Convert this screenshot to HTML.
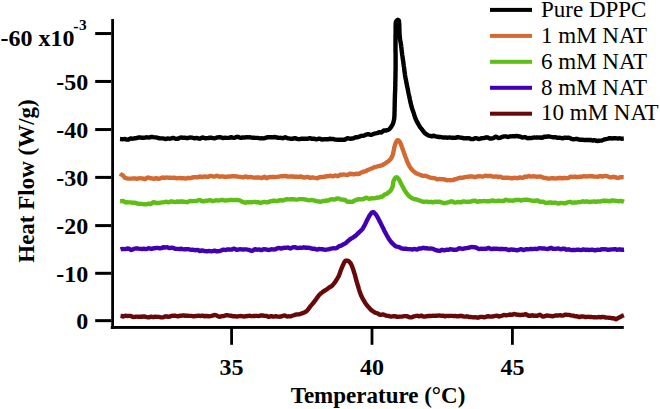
<!DOCTYPE html>
<html><head><meta charset="utf-8"><style>
html,body{margin:0;padding:0;background:#fff;}
svg{display:block;}
</style></head><body>
<svg width="660" height="409" viewBox="0 0 660 409">
<rect width="660" height="409" fill="#fff"/>
<g fill="none" stroke-width="4.4" stroke-linejoin="round" stroke-linecap="butt">
<path d="M120.0 139.0 121.2 139.1 122.4 139.2 123.6 139.1 124.8 139.0 126.0 139.3 127.2 139.7 128.4 139.5 129.6 138.8 130.8 138.5 132.0 138.7 133.2 138.6 134.4 138.3 135.6 138.2 136.7 138.1 137.9 137.7 139.0 137.4 140.2 137.5 141.4 137.7 142.6 137.8 143.8 137.7 145.0 137.6 146.2 137.3 147.4 137.4 148.6 137.6 149.8 137.3 151.0 137.0 152.2 136.9 153.4 137.2 154.6 137.4 155.8 137.4 157.0 137.6 158.2 138.0 159.4 138.3 160.5 138.4 161.7 138.4 162.9 138.4 164.1 138.6 165.3 139.0 166.5 138.8 167.7 138.4 168.9 138.6 170.1 138.7 171.3 138.4 172.5 138.0 173.7 138.0 174.9 138.5 176.1 138.9 177.3 138.8 178.5 138.5 179.7 137.9 180.9 137.5 182.1 137.7 183.3 137.8 184.5 137.6 185.7 137.9 186.9 138.2 188.1 138.0 189.3 137.6 190.5 137.5 191.7 137.6 192.9 137.8 194.1 138.3 195.3 138.2 196.5 138.0 197.7 138.2 198.9 138.6 200.1 138.7 201.3 138.0 202.5 137.4 203.7 137.8 204.9 138.3 206.1 138.2 207.3 138.1 208.5 138.1 209.7 137.6 210.9 137.6 212.1 138.0 213.3 138.2 214.5 138.4 215.7 138.0 216.9 137.5 218.1 137.3 219.3 137.1 220.5 137.2 221.7 137.7 222.9 138.0 224.1 137.9 225.3 137.8 226.5 137.9 227.7 137.9 228.9 137.9 230.1 137.5 231.3 137.2 232.5 137.6 233.7 137.9 234.9 137.6 236.1 137.2 237.3 136.8 238.5 137.0 239.7 137.6 240.9 137.9 242.1 137.5 243.3 137.4 244.5 137.5 245.7 137.3 246.9 137.3 248.1 137.4 249.3 137.2 250.5 137.4 251.7 137.6 252.9 137.7 254.1 137.8 255.3 137.9 256.5 137.9 257.7 137.9 258.9 138.2 260.1 138.4 261.3 138.3 262.5 138.4 263.7 138.3 264.9 138.1 266.1 137.7 267.3 137.3 268.5 137.3 269.7 137.2 270.9 137.1 272.1 137.4 273.3 137.3 274.5 137.0 275.7 137.1 276.9 137.5 278.1 137.8 279.3 137.9 280.5 137.8 281.7 138.0 282.9 138.2 284.1 137.7 285.3 137.3 286.5 137.8 287.6 138.3 288.8 138.4 290.0 138.6 291.2 138.8 292.4 138.8 293.6 138.4 294.8 138.2 296.0 138.5 297.2 138.8 298.4 139.1 299.6 139.1 300.8 138.8 302.0 138.7 303.2 138.7 304.4 138.7 305.6 138.6 306.8 138.8 308.0 138.8 309.2 138.2 310.4 138.1 311.6 138.7 312.8 138.8 314.0 138.7 315.2 139.0 316.4 139.4 317.6 139.1 318.8 138.7 320.0 138.7 321.2 139.3 322.4 139.5 323.6 139.3 324.8 139.2 326.0 139.2 327.2 139.2 328.4 139.2 329.6 138.8 330.8 138.8 332.0 139.1 333.1 139.0 334.3 139.3 335.5 139.6 336.7 139.6 337.9 139.9 339.1 139.8 340.3 139.7 341.5 139.7 342.7 139.7 343.9 139.8 345.1 139.5 346.3 138.8 347.5 138.2 348.7 138.4 349.8 138.8 351.0 138.7 352.2 138.5 353.4 138.4 354.6 137.7 355.8 137.3 356.9 137.3 358.1 137.1 359.3 136.7 360.4 136.1 361.6 135.8 362.7 135.9 363.9 135.7 365.0 135.1 366.2 134.6 367.3 134.2 368.5 134.2 369.7 134.6 370.9 134.8 372.1 134.6 373.3 134.0 374.5 133.6 375.6 133.4 376.8 133.2 378.0 132.8 379.1 132.2 380.3 132.3 381.4 132.5 382.6 131.6 383.7 130.5 384.9 130.5 386.0 130.5 387.2 130.2 388.3 129.9 389.3 129.1 390.2 128.2 391.0 127.2 391.6 126.2 392.2 125.2 392.8 124.1 393.2 123.0 393.5 121.9 393.8 120.7 394.1 119.5 394.2 118.4 394.3 117.2 394.4 116.0 394.5 114.8 394.5 113.6 394.5 112.4 394.6 111.2 394.6 110.0 394.6 108.8 394.6 107.6 394.7 106.4 394.7 105.2 394.7 104.0 394.7 102.8 394.8 101.6 394.8 100.4 394.8 99.2 394.9 98.0 394.9 96.8 394.9 95.6 395.0 94.4 395.0 93.2 395.1 92.0 395.1 90.8 395.2 89.6 395.2 88.4 395.2 87.2 395.3 86.0 395.3 84.8 395.3 83.6 395.3 82.4 395.4 81.2 395.4 80.0 395.4 78.8 395.4 77.6 395.5 76.4 395.5 75.2 395.5 74.0 395.5 72.8 395.5 71.6 395.6 70.4 395.6 69.2 395.6 68.0 395.6 66.8 395.6 65.6 395.6 64.4 395.6 63.2 395.6 62.0 395.6 60.8 395.6 59.6 395.6 58.4 395.6 57.2 395.6 56.0 395.6 54.8 395.6 53.6 395.5 52.4 395.5 51.2 395.5 50.0 395.5 48.8 395.5 47.6 395.5 46.4 395.5 45.2 395.5 44.0 395.5 42.8 395.5 41.6 395.5 40.4 395.5 39.2 395.5 38.0 395.5 36.8 395.5 35.6 395.6 34.4 395.6 33.2 395.6 32.0 395.6 30.8 395.6 29.6 395.6 28.4 395.6 27.2 395.6 26.0 395.7 24.8 395.7 23.6 395.8 22.4 396.2 21.2 397.0 20.4 397.9 19.8 398.7 20.3 399.0 21.4 399.1 22.6 399.2 23.8 399.3 25.0 399.3 26.2 399.3 27.4 399.4 28.6 399.4 29.8 399.4 31.0 399.5 32.2 399.5 33.4 399.6 34.6 399.7 35.8 399.8 37.0 399.9 38.2 400.1 39.4 400.2 40.6 400.5 41.7 400.7 42.9 400.9 44.1 401.1 45.3 401.2 46.5 401.4 47.7 401.5 48.9 401.6 50.1 401.8 51.2 401.9 52.4 402.1 53.6 402.2 54.8 402.4 56.0 402.6 57.2 402.7 58.4 402.9 59.6 403.1 60.8 403.3 61.9 403.4 63.1 403.6 64.3 403.7 65.5 403.9 66.7 404.1 67.9 404.2 69.1 404.4 70.3 404.5 71.5 404.7 72.6 404.9 73.8 405.0 75.0 405.2 76.2 405.4 77.4 405.6 78.6 405.9 79.7 406.1 80.9 406.3 82.1 406.5 83.3 406.8 84.5 407.0 85.6 407.2 86.8 407.5 88.0 407.7 89.2 408.0 90.3 408.2 91.5 408.4 92.7 408.7 93.9 408.9 95.0 409.2 96.2 409.4 97.4 409.7 98.6 409.9 99.7 410.2 100.9 410.4 102.1 410.7 103.3 411.0 104.4 411.3 105.6 411.6 106.7 411.9 107.9 412.3 109.0 412.7 110.2 413.1 111.3 413.5 112.4 413.9 113.6 414.2 114.7 414.6 115.9 414.9 117.0 415.3 118.2 415.8 119.3 416.3 120.3 416.8 121.4 417.4 122.5 418.0 123.5 418.6 124.6 419.2 125.6 419.8 126.7 420.4 127.6 421.1 128.4 421.9 129.4 422.7 130.4 423.4 131.4 424.2 132.4 425.0 133.3 425.9 133.9 426.9 134.5 428.0 135.3 429.2 135.8 430.4 135.9 431.6 136.3 432.8 136.0 433.9 135.7 435.1 136.2 436.3 136.6 437.5 136.7 438.7 137.0 439.9 137.0 441.1 137.2 442.3 137.4 443.5 137.5 444.7 137.5 445.9 137.4 447.1 137.7 448.3 137.6 449.5 137.4 450.7 137.6 451.9 137.7 453.0 137.8 454.2 137.9 455.4 137.8 456.6 137.5 457.8 137.2 459.0 137.3 460.2 137.6 461.4 137.7 462.6 137.9 463.8 138.3 465.0 138.4 466.2 138.3 467.4 138.2 468.5 138.1 469.7 138.4 470.9 139.0 472.1 139.1 473.3 139.0 474.5 138.4 475.7 138.1 476.9 138.3 478.1 138.9 479.3 139.0 480.5 138.6 481.7 138.2 482.9 138.1 484.1 138.1 485.3 137.7 486.5 137.3 487.7 137.5 488.9 138.2 490.1 138.5 491.3 138.5 492.5 138.4 493.7 138.0 494.9 137.1 496.1 136.6 497.3 137.3 498.5 138.0 499.7 137.9 500.8 137.4 502.0 137.0 503.2 136.7 504.4 136.4 505.6 136.4 506.8 136.7 508.0 137.0 509.2 136.6 510.4 136.3 511.6 136.4 512.8 136.3 514.0 136.3 515.2 136.3 516.4 135.9 517.6 136.2 518.8 136.5 520.0 136.5 521.2 137.0 522.3 137.6 523.5 137.4 524.7 137.0 525.9 137.4 527.1 138.1 528.3 138.2 529.5 138.0 530.7 138.1 531.9 138.0 533.1 137.6 534.3 137.5 535.5 137.6 536.7 137.4 537.9 137.5 539.1 137.6 540.3 137.4 541.5 137.9 542.7 137.7 543.9 136.7 545.1 136.7 546.3 136.8 547.5 136.5 548.7 136.4 549.9 136.7 551.1 136.9 552.3 137.1 553.5 137.4 554.7 137.3 555.9 137.3 557.0 137.7 558.2 137.7 559.4 137.6 560.6 137.8 561.8 138.3 563.0 138.3 564.2 137.7 565.4 137.6 566.6 137.9 567.8 137.8 569.0 137.7 570.2 138.2 571.4 138.9 572.6 139.2 573.8 139.2 575.0 139.1 576.2 138.8 577.3 139.0 578.5 139.5 579.7 139.7 580.9 139.8 582.1 139.8 583.3 139.8 584.5 140.0 585.7 140.0 586.9 139.8 588.1 140.0 589.3 140.0 590.5 139.9 591.7 140.4 592.9 140.5 594.1 140.2 595.3 140.4 596.5 140.9 597.7 141.0 598.9 140.7 600.1 140.6 601.2 140.6 602.4 140.3 603.6 139.8 604.7 139.3 605.9 139.1 607.1 138.9 608.3 138.6 609.5 138.1 610.6 138.1 611.8 138.5 613.0 138.3 614.2 138.2 615.4 138.2 616.6 138.4 617.8 138.5 619.0 138.3 620.2 138.4 621.4 138.7 622.6 138.6 623.8 138.5" stroke="#000000"/>
<path d="M120.0 173.6 121.0 174.4 122.0 174.9 123.0 175.5 123.8 176.5 124.5 177.4 125.6 177.9 126.8 178.3 128.0 178.6 129.2 178.6 130.4 178.6 131.6 178.6 132.8 178.4 134.0 178.4 135.2 178.5 136.4 178.7 137.6 178.7 138.8 178.4 140.0 178.3 141.2 178.4 142.4 178.5 143.6 178.7 144.8 179.1 146.0 178.6 147.2 177.6 148.4 177.5 149.6 178.0 150.8 178.3 152.0 178.4 153.2 178.7 154.4 178.7 155.6 178.1 156.8 178.2 158.0 178.8 159.2 178.7 160.4 178.3 161.6 177.8 162.8 177.5 164.0 177.8 165.2 177.9 166.4 177.5 167.6 177.6 168.8 177.7 170.0 177.6 171.2 177.8 172.4 177.9 173.6 177.8 174.8 177.8 176.0 178.2 177.1 178.4 178.3 178.1 179.5 178.0 180.7 178.2 181.9 178.3 183.1 178.3 184.3 178.3 185.5 178.5 186.7 178.3 187.9 177.9 189.1 178.0 190.3 178.1 191.5 177.9 192.7 177.4 193.9 177.2 195.1 177.3 196.3 177.2 197.5 177.3 198.7 177.0 199.8 176.5 201.0 176.8 202.2 177.0 203.4 176.6 204.6 176.4 205.8 176.6 207.0 176.8 208.2 176.7 209.4 176.2 210.6 175.9 211.8 176.1 213.0 176.4 214.2 176.6 215.4 176.3 216.6 175.8 217.8 176.0 219.0 176.6 220.2 176.7 221.4 176.4 222.6 176.4 223.8 176.7 225.0 176.8 226.2 176.9 227.4 176.7 228.6 176.5 229.8 176.6 231.0 176.5 232.2 176.1 233.4 176.2 234.6 176.4 235.8 176.3 237.0 176.5 238.2 176.7 239.4 176.9 240.6 176.9 241.8 177.1 243.0 177.3 244.2 177.0 245.4 176.4 246.6 176.6 247.8 177.3 249.0 177.2 250.2 176.9 251.4 177.1 252.6 177.4 253.8 177.6 255.0 177.6 256.2 177.4 257.4 177.5 258.6 177.5 259.8 177.6 261.0 178.0 262.2 178.0 263.4 177.1 264.6 176.8 265.8 177.8 267.0 178.2 268.2 177.4 269.4 177.0 270.6 177.2 271.8 177.0 273.0 176.8 274.2 177.0 275.4 177.1 276.6 176.9 277.8 176.9 279.0 176.7 280.2 176.4 281.4 176.3 282.6 176.3 283.8 176.2 285.0 175.9 286.2 176.1 287.4 176.6 288.6 176.6 289.8 176.4 291.0 176.5 292.2 176.4 293.4 176.5 294.6 176.8 295.8 176.7 297.0 176.6 298.2 176.9 299.3 176.8 300.5 176.5 301.7 176.7 302.9 177.2 304.1 177.6 305.3 177.3 306.5 177.0 307.7 176.9 308.9 177.4 310.1 177.8 311.3 177.6 312.5 177.4 313.7 177.7 314.9 177.9 316.1 178.1 317.3 178.2 318.5 177.6 319.7 177.1 320.9 177.0 322.1 177.0 323.3 176.9 324.5 176.8 325.7 176.4 326.9 176.1 328.1 176.2 329.3 176.0 330.5 175.7 331.6 176.1 332.8 176.3 334.0 176.0 335.2 175.5 336.4 175.6 337.6 176.2 338.8 175.8 340.0 174.8 341.2 174.7 342.4 174.7 343.6 174.5 344.8 174.6 346.0 174.8 347.2 175.1 348.4 174.7 349.6 173.8 350.8 173.8 352.0 174.0 353.2 174.3 354.4 174.3 355.6 173.9 356.7 173.7 357.9 174.1 359.1 173.9 360.3 173.0 361.4 172.5 362.5 172.1 363.7 171.6 364.8 171.3 365.9 171.1 367.0 170.4 368.1 169.8 369.2 169.5 370.3 169.0 371.5 168.5 372.6 168.1 373.7 167.6 374.8 167.1 376.0 166.8 377.1 166.5 378.3 166.2 379.4 166.0 380.6 165.7 381.7 165.4 382.8 164.9 383.9 164.2 384.9 163.6 386.0 162.9 386.9 162.2 387.9 161.6 388.8 160.8 389.7 160.0 390.5 159.2 391.2 158.2 391.8 157.1 392.3 156.0 392.7 154.9 393.0 153.8 393.3 152.6 393.5 151.4 393.8 150.2 394.0 149.1 394.2 147.9 394.5 146.7 394.9 145.6 395.2 144.4 395.6 143.3 396.1 142.2 396.6 141.1 397.4 140.1 398.5 140.4 399.3 141.2 400.0 142.2 400.5 143.3 400.9 144.4 401.4 145.5 401.8 146.7 402.2 147.8 402.6 148.9 403.0 150.0 403.4 151.2 403.8 152.3 404.2 153.4 404.6 154.6 405.0 155.7 405.4 156.8 405.9 157.9 406.3 159.1 406.7 160.2 407.1 161.3 407.6 162.4 408.1 163.5 408.6 164.6 409.1 165.6 409.8 166.7 410.4 167.7 411.1 168.7 411.9 169.6 412.7 170.5 413.5 171.3 414.5 171.9 415.5 172.8 416.5 173.5 417.6 173.8 418.7 174.3 419.8 174.7 420.9 175.1 422.1 175.6 423.2 175.9 424.4 175.8 425.6 175.9 426.8 176.2 427.9 176.7 429.1 177.2 430.3 177.6 431.5 177.8 432.6 178.0 433.8 178.1 435.0 178.3 436.2 178.9 437.3 179.4 438.5 179.1 439.7 178.9 440.9 179.1 442.1 179.1 443.3 179.2 444.5 179.5 445.7 179.8 446.9 180.2 448.1 180.1 449.3 180.1 450.5 180.2 451.7 180.1 452.9 180.1 454.1 179.6 455.3 179.1 456.4 178.9 457.6 178.6 458.7 178.1 459.9 177.8 461.1 177.7 462.2 177.9 463.4 177.6 464.6 177.1 465.8 176.9 467.0 176.9 468.2 176.8 469.4 176.5 470.6 176.4 471.8 176.5 473.0 176.7 474.2 177.0 475.4 177.0 476.6 176.7 477.8 176.4 479.0 176.1 480.2 176.3 481.4 176.4 482.6 176.6 483.8 176.4 485.0 175.8 486.2 175.8 487.4 176.0 488.6 176.0 489.8 175.9 491.0 176.0 492.2 176.4 493.4 176.7 494.6 176.6 495.8 176.4 497.0 176.6 498.1 177.1 499.3 176.9 500.5 176.8 501.7 177.4 502.9 177.8 504.1 177.8 505.3 177.8 506.5 177.8 507.7 177.7 508.9 177.9 510.1 178.0 511.3 178.3 512.5 178.3 513.7 177.9 514.9 177.8 516.1 178.0 517.3 178.2 518.5 177.9 519.7 177.4 520.9 177.5 522.1 177.9 523.3 177.7 524.5 176.8 525.6 176.7 526.8 176.9 528.0 176.3 529.2 176.0 530.4 176.5 531.6 176.6 532.8 176.3 534.0 176.3 535.2 176.5 536.4 176.7 537.6 176.7 538.8 176.6 540.0 176.5 541.2 176.7 542.3 177.2 543.5 177.8 544.7 177.9 545.8 177.9 547.0 178.3 548.2 178.6 549.4 178.5 550.6 178.4 551.8 178.2 553.0 178.1 554.2 178.4 555.4 178.5 556.6 178.4 557.8 178.3 559.0 178.0 560.2 177.9 561.4 178.3 562.6 178.4 563.8 177.9 565.0 178.0 566.2 178.2 567.4 178.1 568.6 177.9 569.8 177.0 571.0 176.7 572.1 177.0 573.3 176.9 574.5 176.6 575.7 176.7 576.9 177.1 578.1 177.1 579.3 176.7 580.5 176.8 581.7 176.7 582.9 176.4 584.1 176.3 585.3 176.3 586.5 176.5 587.7 176.4 588.9 176.3 590.1 176.3 591.3 176.2 592.5 176.2 593.7 176.6 594.9 176.6 596.1 176.6 597.3 176.7 598.5 176.6 599.7 176.2 600.9 176.2 602.1 176.5 603.3 176.4 604.5 176.0 605.7 175.9 606.9 176.1 608.1 176.5 609.3 177.1 610.5 177.4 611.7 177.3 612.9 177.0 614.1 176.8 615.3 177.1 616.5 177.6 617.7 178.0 618.9 177.7 620.1 177.3 621.3 177.2 622.5 177.1 623.7 177.1" stroke="#D46A32"/>
<path d="M120.1 201.3 121.3 201.2 122.5 201.0 123.7 201.2 124.9 202.1 126.1 202.5 127.3 202.2 128.5 202.4 129.6 202.4 130.8 202.4 132.0 202.7 133.2 202.7 134.4 202.6 135.6 202.9 136.8 203.3 137.9 203.7 139.1 203.8 140.3 203.9 141.5 203.9 142.7 204.1 143.9 204.3 145.1 204.4 146.3 204.3 147.5 204.0 148.7 203.7 149.9 204.0 151.1 204.0 152.2 202.9 153.4 202.2 154.6 202.4 155.8 202.9 157.0 203.0 158.2 203.0 159.4 202.9 160.6 202.6 161.8 202.4 163.0 202.4 164.2 202.2 165.4 201.9 166.6 201.8 167.8 202.3 169.0 202.4 170.2 201.8 171.4 201.3 172.6 201.6 173.8 201.9 175.0 202.0 176.2 201.8 177.4 201.5 178.6 201.8 179.8 201.8 181.0 201.3 182.2 201.5 183.4 201.8 184.6 201.8 185.8 202.0 187.0 202.2 188.2 201.7 189.4 201.1 190.6 201.0 191.8 201.2 193.0 201.1 194.2 201.0 195.4 201.1 196.6 201.0 197.8 200.5 199.0 200.0 200.2 200.1 201.4 200.9 202.6 201.3 203.8 201.3 205.0 200.9 206.2 200.6 207.4 200.7 208.6 200.5 209.8 200.1 211.0 200.4 212.2 201.0 213.4 201.0 214.6 200.6 215.8 200.4 217.0 200.3 218.2 200.6 219.4 200.4 220.6 200.1 221.8 200.0 223.0 200.0 224.2 200.3 225.4 200.5 226.6 200.3 227.8 200.4 229.0 200.2 230.2 200.0 231.4 199.9 232.6 200.0 233.8 200.1 235.0 200.0 236.2 199.9 237.3 200.0 238.5 200.1 239.7 200.3 240.8 201.0 242.0 201.7 243.2 202.1 244.4 202.5 245.6 202.7 246.8 202.3 248.0 202.2 249.2 202.4 250.4 202.2 251.6 202.2 252.8 202.1 254.0 201.9 255.2 201.9 256.4 202.3 257.6 202.3 258.8 202.3 260.0 202.8 261.2 202.8 262.4 202.3 263.6 202.0 264.8 202.0 266.0 202.2 267.2 202.3 268.4 202.1 269.6 201.6 270.8 201.2 271.9 201.0 273.1 200.7 274.3 200.7 275.5 200.9 276.7 201.1 277.9 200.9 279.1 200.4 280.3 200.2 281.4 200.3 282.6 200.5 283.8 200.2 285.0 199.7 286.2 199.3 287.4 199.2 288.6 199.4 289.8 199.4 291.0 199.2 292.2 199.1 293.4 199.2 294.6 199.4 295.8 199.6 297.0 199.6 298.2 199.4 299.4 199.1 300.6 199.1 301.8 199.1 303.0 199.1 304.2 199.3 305.4 199.5 306.6 199.8 307.8 200.1 309.0 200.3 310.2 200.1 311.3 200.0 312.5 200.2 313.7 200.4 314.9 200.6 316.1 201.1 317.3 201.3 318.5 201.4 319.7 201.7 320.9 201.7 322.1 201.3 323.3 200.9 324.4 200.9 325.6 200.8 326.8 200.5 328.0 200.6 329.2 200.2 330.4 199.5 331.5 199.3 332.7 199.3 333.9 199.6 335.1 199.4 336.3 198.7 337.5 198.5 338.7 198.7 339.9 199.0 341.1 199.5 342.2 199.6 343.4 199.7 344.5 199.9 345.5 200.3 346.6 201.1 347.7 201.8 348.9 201.8 350.1 201.6 351.3 201.9 352.5 201.9 353.6 201.1 354.7 200.4 355.9 200.1 357.0 199.5 358.2 199.3 359.4 199.3 360.5 199.2 361.7 199.1 362.9 199.2 364.1 198.8 365.3 197.9 366.5 197.7 367.7 198.3 368.9 198.8 370.1 198.6 371.3 198.3 372.5 198.3 373.7 198.4 374.9 198.2 376.1 197.8 377.3 197.5 378.4 197.7 379.6 197.4 380.7 196.8 381.9 196.7 383.0 196.1 384.0 195.0 385.1 194.4 386.2 194.1 387.2 193.6 388.2 192.6 389.1 191.9 390.0 191.2 390.7 190.3 391.4 189.3 391.9 188.2 392.4 187.1 392.7 186.0 392.9 184.8 393.1 183.6 393.2 182.4 393.5 181.2 394.0 180.1 394.5 179.0 395.2 178.0 396.1 177.3 397.3 177.5 398.1 178.3 398.8 179.3 399.4 180.2 400.0 181.3 400.5 182.4 401.0 183.5 401.6 184.6 402.1 185.6 402.7 186.7 403.3 187.7 403.8 188.8 404.4 189.8 405.0 190.8 405.7 191.9 406.3 192.9 407.1 193.8 407.8 194.7 408.6 195.6 409.4 196.4 410.3 197.2 411.3 197.8 412.4 198.3 413.4 198.8 414.6 199.2 415.7 199.3 416.9 199.5 418.0 200.0 419.2 200.4 420.4 200.8 421.6 201.3 422.8 201.8 424.0 201.8 425.1 201.6 426.3 201.6 427.5 201.7 428.7 202.1 429.9 202.0 431.1 201.8 432.3 202.3 433.5 202.2 434.7 201.6 435.9 201.7 437.1 201.9 438.3 201.7 439.5 201.7 440.7 202.1 441.9 202.5 443.1 203.0 444.3 203.2 445.5 202.8 446.7 202.6 447.9 202.5 449.1 202.1 450.3 201.6 451.5 201.3 452.7 201.7 453.9 202.4 455.1 202.6 456.3 202.4 457.5 202.0 458.7 201.9 459.9 202.3 461.1 202.3 462.3 201.7 463.5 201.4 464.7 201.5 465.9 201.9 467.1 201.9 468.3 201.6 469.5 201.7 470.7 201.6 471.9 201.2 473.1 200.8 474.3 200.6 475.5 200.7 476.7 201.6 477.9 201.8 479.1 201.2 480.3 201.1 481.5 201.3 482.7 201.1 483.9 201.0 485.1 201.1 486.3 201.3 487.5 201.2 488.7 201.2 489.9 201.3 491.1 200.8 492.3 200.4 493.5 200.7 494.7 201.1 495.9 201.1 497.1 200.8 498.3 200.6 499.5 200.8 500.7 200.9 501.9 201.0 503.1 201.1 504.3 200.6 505.5 199.8 506.7 199.9 507.9 200.3 509.1 200.5 510.3 200.5 511.5 200.6 512.6 200.7 513.8 200.5 515.0 200.0 516.2 200.0 517.4 200.0 518.6 199.8 519.8 200.2 521.0 200.5 522.2 200.2 523.4 199.9 524.6 199.7 525.8 199.6 527.0 199.7 528.2 199.9 529.4 200.1 530.6 200.3 531.8 200.7 533.0 200.9 534.2 200.8 535.4 200.8 536.6 200.5 537.7 200.5 538.9 201.2 540.1 201.8 541.3 201.8 542.5 201.7 543.7 202.0 544.9 202.6 546.1 202.9 547.3 202.8 548.5 202.7 549.7 202.5 550.9 202.5 552.1 202.8 553.3 202.9 554.5 202.6 555.7 202.6 556.9 203.2 558.1 203.5 559.3 203.3 560.5 202.9 561.7 202.9 562.9 203.1 564.1 203.3 565.3 203.3 566.5 202.9 567.7 202.3 568.9 202.1 570.1 201.9 571.2 202.1 572.4 202.7 573.6 202.6 574.8 202.3 576.0 202.6 577.2 202.4 578.4 202.0 579.6 202.1 580.8 202.0 582.0 201.5 583.2 201.3 584.4 201.7 585.6 201.6 586.8 201.3 588.0 201.7 589.2 202.0 590.4 201.8 591.6 201.7 592.8 201.6 594.0 201.4 595.2 201.7 596.4 201.8 597.6 201.4 598.8 201.4 600.0 201.5 601.2 201.2 602.4 200.9 603.6 200.6 604.8 200.7 606.0 200.9 607.2 200.8 608.4 201.0 609.6 201.3 610.8 200.9 612.0 200.4 613.2 200.4 614.4 200.6 615.6 200.8 616.8 200.9 618.0 201.2 619.2 201.2 620.4 200.9 621.6 201.0 622.8 201.4 624.0 201.9" stroke="#5DBE16"/>
<path d="M120.5 249.4 121.7 249.0 122.9 249.0 124.1 249.1 125.3 249.0 126.5 248.8 127.7 248.5 128.9 248.7 130.1 249.3 131.3 250.0 132.5 249.6 133.7 248.9 134.9 248.7 136.1 248.5 137.3 248.4 138.5 248.7 139.7 248.9 140.9 248.9 142.1 249.0 143.3 248.8 144.5 248.8 145.7 249.1 146.9 248.8 148.1 248.4 149.3 248.3 150.5 248.8 151.7 248.9 152.9 248.4 154.1 248.2 155.3 248.2 156.5 247.9 157.7 247.9 158.9 248.2 160.1 248.2 161.3 248.1 162.5 247.6 163.7 247.2 164.9 247.5 166.1 247.4 167.3 247.2 168.5 247.8 169.7 248.1 170.9 247.8 172.1 247.7 173.3 248.0 174.5 248.4 175.6 248.9 176.8 248.9 178.0 248.9 179.2 249.1 180.4 248.8 181.6 248.8 182.8 249.2 184.0 249.4 185.2 249.2 186.4 249.2 187.6 249.1 188.8 249.1 190.0 249.7 191.2 249.9 192.4 249.6 193.6 249.8 194.8 250.1 195.9 250.2 197.1 249.9 198.3 250.1 199.5 251.0 200.7 250.9 201.9 250.4 203.1 250.6 204.3 251.0 205.5 251.2 206.7 251.4 207.9 251.1 209.1 251.0 210.3 251.1 211.5 251.4 212.7 251.2 213.9 250.7 215.1 250.6 216.3 251.2 217.5 251.3 218.7 251.1 219.9 251.0 221.1 250.5 222.3 250.0 223.5 249.7 224.7 249.9 225.9 250.0 227.1 249.5 228.3 249.3 229.4 249.5 230.6 249.6 231.8 249.5 233.0 248.8 234.2 248.6 235.4 249.2 236.6 249.8 237.8 249.7 239.0 249.4 240.2 249.3 241.4 249.4 242.6 249.5 243.8 249.5 245.0 249.4 246.2 249.4 247.4 249.6 248.6 249.8 249.8 250.2 251.0 250.7 252.2 250.8 253.4 250.1 254.6 249.3 255.8 249.3 257.0 249.7 258.2 249.6 259.4 249.4 260.6 250.0 261.8 250.1 263.0 249.4 264.2 249.1 265.4 249.3 266.6 249.5 267.8 249.9 269.0 250.0 270.2 249.6 271.4 249.3 272.6 249.4 273.8 249.5 275.0 249.4 276.2 248.9 277.4 248.3 278.6 248.0 279.8 248.2 281.0 248.5 282.1 248.4 283.3 247.9 284.5 247.8 285.7 247.9 286.9 247.6 288.1 247.5 289.3 248.1 290.5 248.5 291.7 247.9 292.9 247.3 294.1 247.1 295.3 247.2 296.5 247.8 297.7 248.0 298.9 247.9 300.1 247.8 301.3 247.9 302.5 247.6 303.7 247.3 304.9 247.5 306.1 247.8 307.3 247.8 308.5 247.8 309.7 247.9 310.9 248.3 312.1 248.7 313.3 248.7 314.5 248.8 315.7 249.2 316.9 249.6 318.1 249.4 319.3 248.9 320.5 249.1 321.7 249.2 322.9 249.3 324.1 249.6 325.3 249.7 326.5 249.6 327.7 249.4 328.9 249.3 330.1 248.8 331.2 248.6 332.4 248.4 333.6 248.3 334.8 248.4 335.9 248.3 337.1 247.8 338.2 246.9 339.3 246.2 340.4 245.9 341.5 245.4 342.6 244.8 343.6 244.2 344.7 243.7 345.7 243.1 346.6 242.3 347.6 241.5 348.5 240.6 349.5 239.8 350.4 239.1 351.4 238.4 352.4 237.9 353.3 237.3 354.3 236.6 355.3 235.9 356.2 235.2 357.1 234.3 358.0 233.4 358.9 232.5 359.8 231.7 360.7 230.9 361.5 230.0 362.3 229.2 363.0 228.2 363.6 227.2 364.2 226.2 364.7 225.1 365.3 224.0 365.8 222.9 366.3 221.8 366.8 220.7 367.3 219.7 367.9 218.6 368.5 217.5 369.0 216.5 369.6 215.4 370.3 214.4 371.0 213.4 371.7 212.6 372.7 212.2 373.8 212.3 374.7 213.2 375.5 214.1 376.2 215.1 376.9 216.1 377.5 217.1 378.1 218.2 378.6 219.2 379.2 220.3 379.7 221.4 380.3 222.4 380.8 223.5 381.4 224.6 381.9 225.7 382.4 226.7 383.0 227.8 383.5 228.9 384.0 230.0 384.5 231.1 385.1 232.1 385.7 233.2 386.2 234.2 386.8 235.3 387.4 236.3 388.0 237.4 388.6 238.4 389.3 239.4 389.9 240.5 390.7 241.4 391.4 242.3 392.2 243.2 393.1 244.0 394.0 244.8 394.9 245.7 395.9 246.3 397.0 246.6 398.1 246.8 399.3 247.2 400.5 247.9 401.6 248.4 402.8 248.7 404.0 248.8 405.2 248.8 406.4 248.8 407.6 249.0 408.8 249.1 410.0 249.1 411.2 249.4 412.4 249.5 413.6 249.2 414.8 249.0 416.0 249.4 417.2 249.5 418.4 248.9 419.6 248.4 420.7 248.5 421.9 248.3 423.1 247.8 424.3 248.0 425.5 248.3 426.7 248.2 427.9 248.5 429.1 248.6 430.3 248.5 431.5 248.6 432.6 248.6 433.8 249.2 435.0 249.9 436.1 250.2 437.3 250.5 438.5 250.7 439.7 250.8 440.9 250.4 442.1 249.8 443.3 250.1 444.5 250.3 445.7 249.9 446.9 249.7 448.1 249.9 449.2 249.6 450.4 249.2 451.6 249.4 452.8 249.7 454.0 249.6 455.2 249.8 456.4 249.8 457.6 249.2 458.8 248.4 460.0 248.3 461.2 248.6 462.4 248.8 463.6 248.7 464.7 248.4 465.9 248.1 467.1 248.0 468.3 247.8 469.5 247.5 470.7 247.1 471.9 247.0 473.1 247.1 474.3 247.2 475.5 247.4 476.7 247.9 477.9 248.5 479.1 249.1 480.3 248.9 481.5 248.6 482.7 248.8 483.9 248.9 485.1 248.8 486.3 248.9 487.5 248.3 488.7 247.9 489.9 248.5 491.1 249.0 492.3 249.1 493.5 248.6 494.7 248.6 495.9 248.9 497.1 248.7 498.3 248.9 499.5 249.2 500.7 249.0 501.9 248.8 503.1 249.0 504.3 249.1 505.5 249.0 506.7 249.3 507.8 249.8 509.0 250.1 510.2 249.6 511.4 249.4 512.6 249.7 513.8 249.8 515.0 249.9 516.2 250.2 517.4 250.2 518.6 250.0 519.8 249.5 521.0 249.1 522.2 249.5 523.4 250.1 524.6 249.7 525.8 249.2 527.0 249.1 528.2 249.4 529.4 249.2 530.6 248.9 531.8 249.0 533.0 249.1 534.2 248.9 535.3 248.8 536.5 249.0 537.7 248.8 538.9 248.3 540.1 248.1 541.3 248.3 542.5 248.5 543.7 248.5 544.9 248.7 546.1 248.9 547.3 249.0 548.5 248.8 549.7 248.2 550.9 247.9 552.1 248.4 553.3 248.9 554.5 248.9 555.7 248.8 556.9 248.6 558.1 248.5 559.3 248.7 560.5 249.2 561.7 249.1 562.9 248.7 564.1 248.6 565.3 249.1 566.5 249.7 567.7 249.5 568.9 249.3 570.1 249.8 571.3 250.1 572.5 250.0 573.7 249.9 574.9 250.0 576.1 249.9 577.3 249.7 578.5 249.6 579.7 249.9 580.9 250.1 582.1 249.9 583.3 249.4 584.5 249.6 585.7 250.0 586.9 249.7 588.1 249.8 589.3 250.0 590.5 249.9 591.7 249.6 592.9 249.7 594.1 250.2 595.3 250.3 596.5 249.9 597.7 249.8 598.9 249.9 600.1 249.9 601.3 249.4 602.5 249.2 603.7 249.4 604.9 249.3 606.1 249.4 607.3 249.7 608.5 249.7 609.7 249.6 610.9 249.5 612.1 249.4 613.3 249.4 614.5 249.1 615.7 249.2 616.9 249.7 618.1 249.6 619.3 249.3 620.5 249.5 621.7 249.8 622.9 249.8 624.1 249.7" stroke="#4200B4"/>
<path d="M120.5 315.8 121.7 316.0 122.9 316.5 124.1 316.2 125.3 315.6 126.5 315.8 127.7 316.0 128.9 315.9 130.1 315.9 131.3 316.2 132.5 316.8 133.7 317.0 134.9 316.9 136.1 316.6 137.3 316.6 138.5 316.9 139.7 316.7 140.9 316.8 142.1 316.8 143.3 316.5 144.5 316.5 145.7 316.8 146.9 317.1 148.1 317.3 149.3 317.3 150.5 316.8 151.7 316.8 152.9 317.0 154.1 317.0 155.3 316.6 156.5 316.8 157.7 316.9 158.9 316.9 160.1 317.2 161.3 317.4 162.5 317.4 163.7 317.1 164.9 316.5 166.1 316.3 167.2 316.5 168.4 316.8 169.6 316.6 170.8 316.1 172.0 315.8 173.2 315.7 174.4 315.7 175.6 315.8 176.8 316.1 178.0 316.4 179.2 315.9 180.4 315.7 181.6 315.7 182.8 315.5 184.0 315.5 185.2 315.8 186.4 315.8 187.6 315.7 188.8 315.9 190.0 315.9 191.2 315.9 192.4 316.1 193.6 316.3 194.8 316.2 196.0 316.0 197.2 315.9 198.4 315.8 199.6 315.8 200.8 316.0 202.0 315.6 203.2 315.7 204.4 316.3 205.6 316.0 206.8 315.9 208.0 316.3 209.2 316.3 210.4 316.1 211.6 315.9 212.8 315.5 214.0 315.2 215.2 315.0 216.4 315.4 217.6 316.0 218.8 316.6 220.0 316.7 221.2 316.2 222.4 316.1 223.6 316.0 224.8 315.7 226.0 315.3 227.2 315.2 228.4 315.4 229.6 315.6 230.8 315.7 232.0 316.0 233.2 316.3 234.4 316.3 235.6 316.3 236.8 316.5 238.0 316.3 239.2 316.1 240.4 316.0 241.6 316.1 242.8 316.4 244.0 316.5 245.2 316.3 246.4 316.2 247.6 316.0 248.8 315.8 250.0 315.8 251.2 316.1 252.4 316.1 253.6 316.0 254.8 316.0 256.0 315.9 257.2 315.9 258.4 316.1 259.6 315.8 260.8 315.5 262.0 315.5 263.2 315.5 264.4 315.9 265.6 315.9 266.8 316.0 268.0 316.7 269.2 316.7 270.4 316.2 271.6 316.2 272.8 316.6 274.0 316.6 275.2 316.3 276.4 316.3 277.6 316.6 278.8 316.6 280.0 316.7 281.2 316.5 282.4 316.0 283.6 315.6 284.8 315.5 286.0 316.1 287.2 316.5 288.4 316.3 289.6 316.4 290.8 316.4 292.0 315.8 293.1 315.5 294.3 315.1 295.5 314.7 296.6 314.5 297.8 314.4 299.0 314.4 300.1 314.0 301.3 313.6 302.5 313.2 303.6 312.7 304.7 312.2 305.7 311.7 306.7 311.0 307.5 310.1 308.3 309.2 309.0 308.2 309.7 307.2 310.4 306.3 311.2 305.4 311.9 304.5 312.7 303.7 313.5 302.6 314.3 301.6 315.0 300.7 315.7 299.8 316.4 298.8 317.1 297.8 317.8 296.8 318.5 295.9 319.2 295.0 320.0 294.2 320.9 293.4 321.9 292.7 322.8 291.9 323.9 291.1 324.9 290.5 325.9 289.9 326.9 289.2 327.9 288.6 328.9 287.7 329.9 286.9 330.9 286.6 331.8 286.0 332.7 285.0 333.5 284.1 334.3 283.1 335.0 282.2 335.7 281.2 336.3 280.2 336.9 279.2 337.6 278.1 338.1 277.1 338.7 276.1 339.2 275.0 339.6 273.8 340.0 272.7 340.4 271.6 340.8 270.4 341.2 269.3 341.7 268.2 342.1 267.1 342.6 266.0 343.1 264.9 343.6 263.8 344.1 262.7 344.7 261.6 345.5 260.7 346.6 260.6 347.7 260.7 348.8 261.3 349.6 262.1 350.4 263.0 351.0 264.0 351.5 265.1 352.0 266.2 352.4 267.3 352.8 268.4 353.2 269.6 353.6 270.7 353.9 271.8 354.3 273.0 354.7 274.1 355.0 275.3 355.3 276.4 355.6 277.6 355.9 278.8 356.2 279.9 356.5 281.1 356.9 282.2 357.2 283.4 357.5 284.5 357.9 285.7 358.2 286.8 358.6 288.0 358.9 289.1 359.3 290.3 359.6 291.4 360.0 292.6 360.4 293.7 360.9 294.8 361.3 295.9 361.9 297.0 362.4 298.1 363.0 299.1 363.6 300.1 364.2 301.2 364.8 302.2 365.5 303.3 366.2 304.3 366.9 305.2 367.6 306.1 368.4 307.0 369.2 307.9 370.1 308.8 370.9 309.8 371.8 310.5 372.8 311.1 373.8 311.9 374.8 312.5 375.9 312.9 377.0 313.1 378.2 313.7 379.3 314.6 380.5 314.8 381.7 314.7 382.8 314.5 384.0 314.7 385.2 315.2 386.3 315.7 387.5 315.9 388.7 315.9 389.9 316.3 391.1 316.6 392.3 316.4 393.5 316.3 394.7 316.3 395.9 316.4 397.1 316.9 398.3 316.9 399.5 316.6 400.7 316.6 401.9 316.6 403.1 316.3 404.3 316.1 405.5 316.1 406.7 316.2 407.9 316.6 409.1 317.1 410.3 317.4 411.5 317.3 412.7 316.9 413.9 316.4 415.1 316.2 416.3 315.9 417.5 315.8 418.7 316.3 419.9 316.1 421.1 315.7 422.3 316.0 423.5 316.6 424.7 316.6 425.9 316.3 427.1 316.2 428.3 316.0 429.5 315.8 430.7 316.0 431.9 315.9 433.1 315.8 434.3 315.9 435.5 315.8 436.7 315.7 437.9 315.6 439.1 315.5 440.3 315.7 441.5 315.9 442.7 315.6 443.9 315.9 445.1 316.3 446.3 315.9 447.5 315.9 448.7 316.0 449.9 315.9 451.1 315.9 452.3 315.9 453.5 316.1 454.7 316.0 455.9 316.0 457.1 316.4 458.3 316.3 459.5 316.0 460.7 315.8 461.9 316.0 463.1 316.3 464.3 316.6 465.5 316.6 466.7 316.3 467.9 316.5 469.1 317.0 470.3 317.0 471.5 317.2 472.7 317.4 473.9 317.3 475.1 317.1 476.3 317.3 477.5 317.7 478.7 317.5 479.9 317.0 481.1 316.9 482.3 316.9 483.5 317.2 484.7 317.2 485.9 316.8 487.1 316.4 488.3 316.2 489.5 316.6 490.7 316.6 491.9 316.5 493.1 316.5 494.2 316.2 495.4 315.9 496.6 315.7 497.8 316.0 499.0 316.5 500.2 316.2 501.4 315.9 502.6 315.5 503.8 314.9 505.0 315.1 506.2 315.3 507.4 315.1 508.6 314.9 509.8 314.5 511.0 314.8 512.2 314.8 513.4 314.1 514.6 314.0 515.8 314.5 517.0 314.7 518.2 314.7 519.4 315.0 520.6 315.0 521.8 314.8 523.0 314.8 524.2 314.6 525.4 314.2 526.6 314.6 527.8 315.4 529.0 315.9 530.2 315.9 531.4 315.4 532.6 315.3 533.8 315.7 535.0 315.8 536.2 315.8 537.4 315.7 538.6 315.2 539.8 314.8 541.0 315.4 542.2 316.3 543.4 316.5 544.6 316.3 545.8 315.8 547.0 315.5 548.2 315.6 549.4 315.8 550.6 316.0 551.8 316.2 553.0 316.2 554.2 315.8 555.3 315.5 556.5 315.4 557.7 315.5 558.9 315.4 560.1 315.2 561.3 315.5 562.5 315.6 563.7 315.3 564.9 314.8 566.1 314.7 567.3 314.9 568.5 314.9 569.7 315.0 570.9 315.4 572.1 315.6 573.3 315.6 574.5 316.1 575.7 316.3 576.9 316.1 578.1 316.7 579.3 317.1 580.5 316.7 581.6 316.5 582.8 316.5 584.0 316.7 585.2 317.0 586.4 317.0 587.6 316.9 588.8 316.8 590.0 317.0 591.2 317.0 592.4 317.1 593.6 317.2 594.8 317.1 596.0 317.4 597.2 317.4 598.4 317.0 599.6 317.2 600.8 317.3 602.0 317.0 603.2 317.0 604.4 317.2 605.6 317.5 606.8 317.6 608.0 317.6 609.2 317.8 610.4 317.9 611.6 318.2 612.8 318.3 614.0 318.2 615.1 319.1 616.3 319.2 617.5 318.4 618.6 317.8 619.7 317.3 620.7 316.7 621.8 316.1 622.9 315.6 623.9 315.2" stroke="#680909"/>
</g>
<g fill="#000">
<rect x="111.2" y="19" width="2.8" height="309.9"/>
<rect x="110.8" y="326" width="513" height="2.9"/>
<rect x="95.2" y="32.05" width="16" height="3.0"/><rect x="95.2" y="79.95" width="16" height="3.0"/><rect x="95.2" y="128.05" width="16" height="3.0"/><rect x="95.2" y="175.90" width="16" height="3.0"/><rect x="95.2" y="224.10" width="16" height="3.0"/><rect x="95.2" y="271.80" width="16" height="3.0"/><rect x="95.2" y="319.15" width="16" height="3.0"/><rect x="230.2" y="328" width="2.8" height="16.8"/><rect x="370.6" y="328" width="2.8" height="16.8"/><rect x="511.0" y="328" width="2.8" height="16.8"/>
</g>
<g font-family="Liberation Serif" font-weight="bold" font-size="24" fill="#000">
<text x="88.2" y="89.9" text-anchor="end">-50</text><text x="88.2" y="138.0" text-anchor="end">-40</text><text x="88.2" y="185.8" text-anchor="end">-30</text><text x="88.2" y="234.0" text-anchor="end">-20</text><text x="88.2" y="281.7" text-anchor="end">-10</text><text x="88.2" y="329.0" text-anchor="end">0</text><text x="74.4" y="46.3" text-anchor="end">-60 x10</text><text x="73.2" y="31.6" font-size="16">-</text><text x="79.1" y="30.1" font-size="15.3">3</text>
<text x="231.6" y="375" text-anchor="middle">35</text><text x="372.0" y="375" text-anchor="middle">40</text><text x="512.4" y="375" text-anchor="middle">45</text>
</g>
<g font-family="Liberation Serif" font-weight="bold" font-size="23" fill="#000">
<text x="378" y="402.5" text-anchor="middle">Temperature (°C)</text>
<text transform="translate(33.5,181) rotate(-90)" text-anchor="middle">Heat Flow (W/g)</text>
</g>
<g font-family="Liberation Serif" font-size="23" fill="#000">
<rect x="490" y="7.9" width="42" height="4" fill="#000000"/><text x="541" y="16.6">Pure DPPC</text><rect x="490" y="33.9" width="42" height="4" fill="#D46A32"/><text x="541" y="42.6">1 mM NAT</text><rect x="490" y="59.8" width="42" height="4" fill="#5DBE16"/><text x="541" y="68.5">6 mM NAT</text><rect x="490" y="85.8" width="42" height="4" fill="#4200B4"/><text x="541" y="94.5">8 mM NAT</text><rect x="490" y="111.7" width="42" height="4" fill="#680909"/><text x="541" y="120.4">10 mM NAT</text>
</g>
</svg>
</body></html>
